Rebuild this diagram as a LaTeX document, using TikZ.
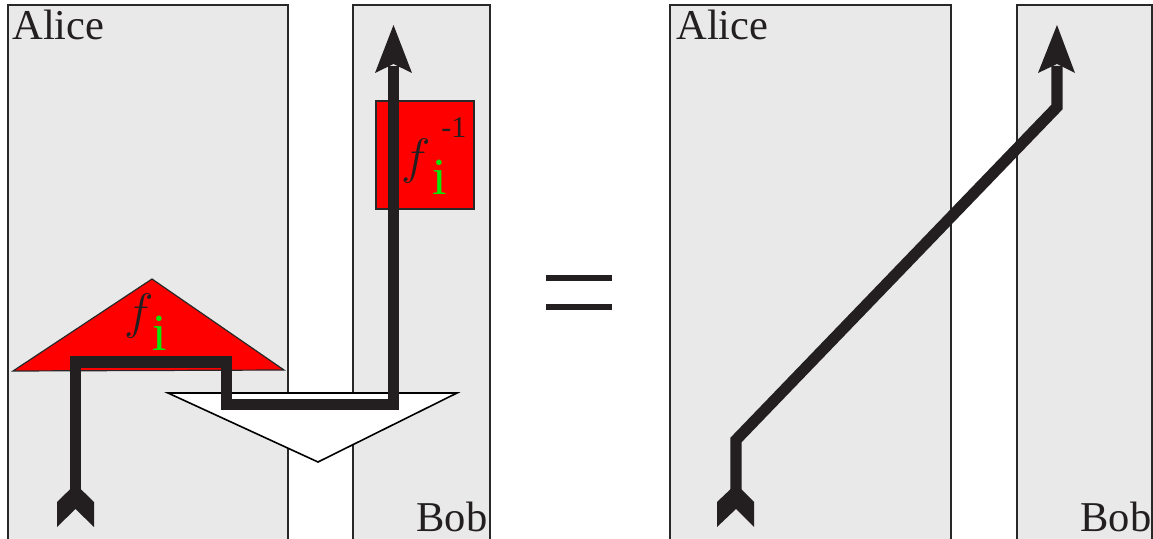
\documentclass[tikz,border=0pt]{standalone}
\usepackage{fontspec}
\setmainfont{Liberation Serif}
\begin{document}
\begin{tikzpicture}[x=0.5pt,y=-0.5pt,
  party/.style={fill=boxgray,draw=boxline,line width=0.7pt},
  redshape/.style={fill=red,draw=boxline,line width=0.6pt},
  wire/.style={draw=wirecol,line width=5.6pt,line join=miter,line cap=butt},
  tipshape/.style={fill=wirecol,draw=none},
  lbltext/.style={inner sep=0pt,anchor=base west,text=wirecol},
  partylabel/.style={lbltext,font=\fontsize{21.25}{24}\selectfont},
  isym/.style={lbltext,text=igreen,font=\fontsize{26}{28}\selectfont},
]
\definecolor{boxgray}{RGB}{233,233,233}
\definecolor{boxline}{RGB}{40,40,40}
\definecolor{wirecol}{RGB}{35,31,32}
\definecolor{igreen}{RGB}{10,230,10}
\useasboundingbox (0,0) rectangle (1153,539);
\fill[white] (0,0) rectangle (1153,539);
% party boxes
\draw[party] (8,5) rectangle (288,560);
\draw[party] (353,5) rectangle (490,560);
\draw[party] (670,5) rectangle (951,560);
\draw[party] (1017,5) rectangle (1152,560);
% labels of parties
\node[partylabel] (alice1) at (12,40) {Alice};
\node[partylabel] (bob1) at (416,532) {Bob};
\node[partylabel] (alice2) at (676,40) {Alice};
\node[partylabel] (bob2) at (1080,532) {Bob};
% red triangle f_i
\draw[redshape] (152,279) -- (284,370) -- (13,371) -- cycle;
% red square f_i^{-1}
\draw[redshape] (376,101) rectangle (474,209);
% white triangle
\draw[fill=white,draw=black,line width=0.8pt] (168,393) -- (457,393) -- (318,462) -- cycle;
% left wire
\coordinate (a0) at (75.5,492);
\coordinate (a1) at (75.5,362);
\coordinate (a2) at (226.5,362);
\coordinate (a3) at (226.5,404.5);
\coordinate (a4) at (393.5,404.5);
\coordinate (a5) at (393.5,66);
\draw[wire] (a0) -- (a1) -- (a2) -- (a3) -- (a4) -- (a5);
\fill[tipshape] (57,502) -- (75.5,484) -- (94,502) -- (94,527) -- (75.5,509) -- (57,527) -- cycle;
\fill[tipshape] (393.5,25) -- (412,73) -- (393.5,64) -- (375,73) -- cycle;
% labels
\node[lbltext,font=\fontsize{26}{28}\selectfont] (f1) at (124,329) {$f$};
\node[isym] (i1) at (152,351) {i};
\node[lbltext,font=\fontsize{28}{30}\selectfont] (f2) at (401,174) {$f$};
\node[isym] (i2) at (432,195) {i};
\node[lbltext,font=\fontsize{15}{16}\selectfont] (m1) at (441,138) {-1};
% equals sign
\fill[wirecol] (546,275) rectangle (612,281);
\fill[wirecol] (546,304) rectangle (612,310);
% right wire
\coordinate (b0) at (736,492);
\coordinate (b1) at (736,440);
\coordinate (b2) at (1057,107);
\coordinate (b3) at (1057,66);
\draw[wire] (b0) -- (b1) -- (b2) -- (b3);
\fill[tipshape] (717,502) -- (736,484) -- (754,502) -- (754,527) -- (736,509) -- (717,527) -- cycle;
\fill[tipshape] (1057,25) -- (1075,73) -- (1057,64) -- (1038,73) -- cycle;
\end{tikzpicture}
\end{document}
